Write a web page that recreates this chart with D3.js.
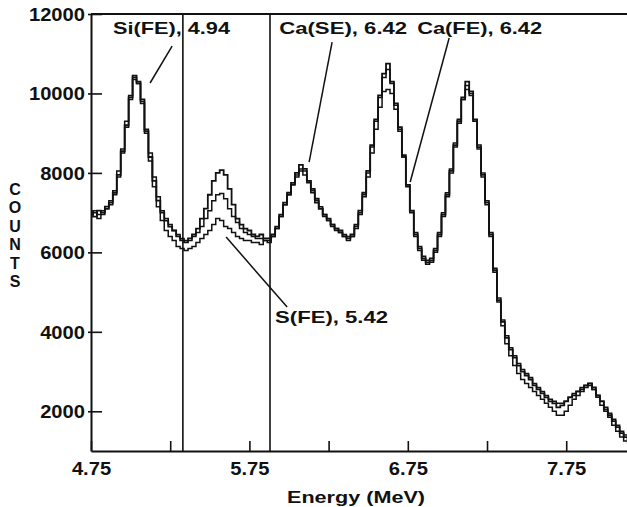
<!DOCTYPE html>
<html><head><meta charset="utf-8">
<script src="https://cdn.jsdelivr.net/npm/d3@7"></script>
<style>
html,body{margin:0;padding:0;background:#fff;}
svg{display:block;}
text{font-family:"Liberation Sans",Arial,sans-serif;font-weight:bold;fill:#111;}
</style></head>
<body>
<svg id="chart" width="627" height="507"></svg>
<script>
// ---- data ----
const energy = [4.750,4.775,4.800,4.825,4.850,4.875,4.900,4.925,4.950,4.975,5.000,5.025,5.050,5.075,5.100,5.125,5.150,5.175,5.200,5.225,5.250,5.275,5.300,5.325,5.350,5.375,5.400,5.425,5.450,5.475,5.500,5.525,5.550,5.575,5.600,5.625,5.650,5.675,5.700,5.725,5.750,5.775,5.800,5.825,5.850,5.875,5.900,5.925,5.950,5.975,6.000,6.025,6.050,6.075,6.100,6.125,6.150,6.175,6.200,6.225,6.250,6.275,6.300,6.325,6.350,6.375,6.400,6.425,6.450,6.475,6.500,6.525,6.550,6.575,6.600,6.625,6.650,6.675,6.700,6.725,6.750,6.775,6.800,6.825,6.850,6.875,6.900,6.925,6.950,6.975,7.000,7.025,7.050,7.075,7.100,7.125,7.150,7.175,7.200,7.225,7.250,7.275,7.300,7.325,7.350,7.375,7.400,7.425,7.450,7.475,7.500,7.525,7.550,7.575,7.600,7.625,7.650,7.675,7.700,7.725,7.750,7.775,7.800,7.825,7.850,7.875,7.900,7.925,7.950,7.975,8.000,8.025,8.050,8.075,8.100,8.125,8.150];

const countsA = [7000,6900,7050,7000,7150,7250,7500,7950,8550,9200,9900,10450,10300,9850,9050,8400,7800,7300,7000,6800,6650,6550,6400,6300,6250,6350,6450,6600,6850,7100,7450,7800,8000,8070,7950,7600,7200,6850,6700,6600,6550,6450,6400,6450,6350,6350,6450,6650,6950,7250,7500,7750,8000,8200,8100,7800,7600,7350,7100,6950,6850,6700,6600,6550,6400,6350,6450,6700,7050,7500,8050,8700,9350,9950,10500,10750,10300,9750,9150,8450,7700,7050,6450,6100,5850,5750,5800,6050,6450,6950,7450,8050,8700,9300,9900,10300,10050,9350,8650,7950,7250,6450,5550,4800,4250,3850,3550,3350,3150,3000,2900,2800,2650,2550,2450,2350,2250,2200,2100,2150,2250,2350,2400,2500,2550,2650,2700,2600,2400,2250,2050,1900,1750,1600,1450,1350,1300];

const countsB = [7050,7000,6950,7050,7100,7300,7550,8050,8600,9300,9950,10350,10250,9800,9100,8500,7900,7400,7050,6850,6700,6550,6450,6350,6300,6300,6400,6500,6650,6850,7050,7300,7450,7480,7350,7100,6900,6750,6600,6500,6450,6400,6350,6350,6300,6300,6400,6600,6900,7200,7450,7700,7900,8050,7950,7750,7550,7300,7150,6950,6800,6700,6600,6500,6450,6400,6400,6600,6950,7400,7900,8500,9100,9650,10050,10100,10000,9600,9050,8400,7700,7050,6500,6150,5900,5800,5850,6100,6500,7000,7500,8100,8750,9350,9850,10100,9950,9300,8700,8000,7300,6500,5600,4850,4300,3900,3600,3400,3200,3050,2950,2850,2700,2600,2500,2400,2300,2250,2200,2200,2250,2350,2450,2500,2600,2650,2650,2550,2400,2250,2100,1950,1800,1650,1500,1400,1300];

const countsC = [6950,7050,6850,6950,7100,7200,7450,7900,8500,9150,9850,10400,10250,9750,9000,8300,7650,7150,6800,6550,6400,6300,6150,6100,6050,6100,6150,6250,6350,6450,6550,6700,6850,6800,6650,6600,6500,6400,6350,6300,6300,6250,6250,6200,6300,6250,6400,6600,6900,7200,7450,7700,7950,8100,8050,7800,7500,7250,7100,6900,6800,6650,6550,6500,6400,6300,6400,6650,7000,7450,8000,8650,9300,9900,10400,10600,10250,9700,9100,8400,7650,7000,6400,6050,5800,5700,5750,6000,6400,6900,7400,8000,8650,9250,9850,10200,10000,9300,8600,7900,7200,6400,5500,4750,4150,3700,3400,3150,2950,2800,2700,2600,2500,2400,2300,2200,2100,2000,1900,1900,2000,2150,2300,2400,2500,2600,2700,2550,2350,2150,2000,1850,1650,1500,1350,1250,1200];

const xTicks = [4.75,5.25,5.75,6.25,6.75,7.25,7.75];
const xTickLabels = ["4.75","","5.75","","6.75","","7.75"];
const yTicks = [2000,4000,6000,8000,10000,12000];
const yTickLabels = ["2000","4000","6000","8000","10000","12000"];
const markerLines = [5.33, 5.88];

// annotations: text, x(MeV) of text start, y(counts) of baseline, width px; leader from (e1,c1) to (e2,c2)
const annoText = ["Si(FE), 4.94","Ca(SE), 6.42","Ca(FE), 6.42","S(FE), 5.42"];
const annoTextE = [4.889, 5.938, 6.809, 5.912];
const annoTextC = [11496, 11496, 11496, 4221];
const annoTextW = [117, 128, 125, 113];
const leaderE1 = [5.262, 6.272, 7.011, 5.603];
const leaderC1 = [11194, 11294, 11395, 6386];
const leaderE2 = [5.123, 6.127, 6.765, 5.988];
const leaderC2 = [10263, 8274, 7771, 4624];

const xTitle = "Energy (MeV)";
const yTitleLetters = ["C","O","U","N","T","S"];

// ---- layout ----
const L = 91, R = 628, T = 14, B = 451;
const svg = d3.select("#chart");
const x = d3.scaleLinear().domain([4.75, 8.14]).range([L, R]);
const y = d3.scaleLinear().domain([1000, 12000]).range([B, T]);

svg.append("defs").append("clipPath").attr("id","clip")
  .append("rect").attr("x",L).attr("y",T).attr("width",R-L).attr("height",B-T);

// series
const line = d3.line().x((d,i)=>x(energy[i])).y(d=>y(d)).curve(d3.curveStep);
const g = svg.append("g").attr("clip-path","url(#clip)");
[countsC, countsB, countsA].forEach((s,k)=>{
  g.append("path").attr("d", line(s)).attr("fill","none")
   .attr("stroke","#111").attr("stroke-width", k===2?1.8:1.5).attr("stroke-linejoin","miter");
});

// marker vertical lines
svg.selectAll(".mk").data(markerLines).enter().append("line")
  .attr("x1",d=>x(d)).attr("x2",d=>x(d)).attr("y1",T).attr("y2",B)
  .attr("stroke","#111").attr("stroke-width",1.6);

// axes
const xAxis = d3.axisBottom(x).tickValues(xTicks).tickSizeInner(-10).tickSizeOuter(0)
  .tickFormat((d,i)=>xTickLabels[i]);
const xg = svg.append("g").attr("transform",`translate(0,${B})`).call(xAxis);
xg.select(".domain").attr("stroke","#111").attr("stroke-width",2);
xg.selectAll(".tick line").attr("stroke","#111").attr("stroke-width",1.6);
xg.selectAll(".tick text").attr("font-size",18).attr("dy",0).attr("y",24)
  .attr("font-family","Liberation Sans, Arial, sans-serif").attr("font-weight","bold").attr("fill","#111");

const yAxis = d3.axisLeft(y).tickValues(yTicks).tickSizeInner(-11).tickSizeOuter(0)
  .tickFormat((d,i)=>yTickLabels[i]);
const yg = svg.append("g").attr("transform",`translate(${L},0)`).call(yAxis);
yg.select(".domain").attr("stroke","#111").attr("stroke-width",2);
yg.selectAll(".tick line").attr("stroke","#111").attr("stroke-width",1.6).attr("x1",-3);
yg.selectAll(".tick text").attr("font-size",18).attr("x",-6).attr("dy","0.35em")
  .attr("font-family","Liberation Sans, Arial, sans-serif").attr("font-weight","bold").attr("fill","#111");

// stretch tick labels horizontally like the reference
svg.selectAll(".tick text").each(function(){
  const w = this.getComputedTextLength();
  if (w>0) d3.select(this).attr("textLength", w*1.12).attr("lengthAdjust","spacingAndGlyphs");
});

// top border
svg.append("line").attr("x1",L).attr("x2",R).attr("y1",T).attr("y2",T)
  .attr("stroke","#111").attr("stroke-width",2);

// annotations
annoText.forEach((t,i)=>{
  svg.append("text").attr("x",x(annoTextE[i])).attr("y",y(annoTextC[i]))
    .attr("font-size",17).attr("textLength",annoTextW[i]).attr("lengthAdjust","spacingAndGlyphs")
    .text(t);
  svg.append("line").attr("x1",x(leaderE1[i])).attr("y1",y(leaderC1[i]))
    .attr("x2",x(leaderE2[i])).attr("y2",y(leaderC2[i]))
    .attr("stroke","#111").attr("stroke-width",1.5);
});

// axis titles
svg.append("text").attr("x",356).attr("y",503).attr("text-anchor","middle")
  .attr("font-size",17).attr("textLength",138).attr("lengthAdjust","spacingAndGlyphs").text(xTitle);
svg.selectAll(".ylet").data(yTitleLetters).enter().append("text")
  .attr("x",15).attr("y",(d,i)=>195 + i*18.4).attr("text-anchor","middle")
  .attr("font-size",16).attr("font-weight","normal").text(d=>d);
</script>
</body></html>
